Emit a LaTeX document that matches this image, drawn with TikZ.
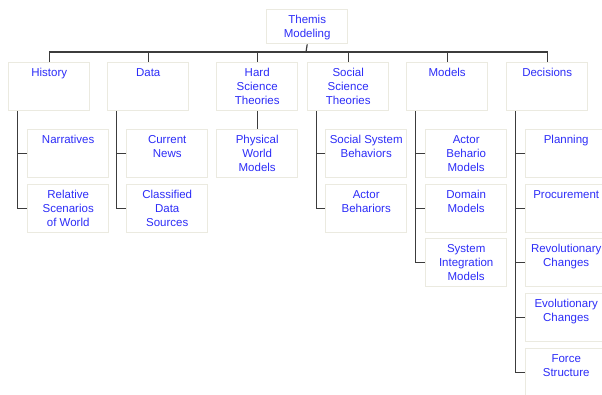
\documentclass[tikz,border=0pt]{standalone}
\usepackage{fontspec}
\newfontfamily\labelfont{Liberation Sans}
\definecolor{ink}{RGB}{45,45,248}
\definecolor{boxline}{RGB}{235,234,224}
\definecolor{wire}{RGB}{60,60,60}
% box contents: fixed height, text hung from the top edge
\newcommand\cardtext[2]{\parbox[c][#1][t]{81pt}{\centering\rule{0pt}{13.7pt}#2}}
\begin{document}
\begin{tikzpicture}[x=1pt,y=-1pt,
  card/.style={draw=boxline, line width=1.4pt, inner sep=0pt, anchor=north west,
    text=ink, font=\labelfont\fontsize{11.5}{14}\selectfont},
  link/.style={draw=wire, line width=1.2pt}]
\useasboundingbox (0,0) rectangle (602,394);
\clip (0,0) rectangle (602,394);
\fill[white] (0,0) rectangle (602,394);

% root
\node[card] (root) at (266,9) {\cardtext{34pt}{Themis\\Modeling}};

% first level
\node[card] (hist) at (8,62)   {\cardtext{48pt}{History}};
\node[card] (data) at (107,62) {\cardtext{48pt}{Data}};
\node[card] (hard) at (216,62) {\cardtext{48pt}{Hard\\Science\\Theories}};
\node[card] (soc)  at (307,62) {\cardtext{48pt}{Social\\Science\\Theories}};
\node[card] (mod)  at (406,62) {\cardtext{48pt}{Models}};
\node[card] (dec)  at (506,62) {\cardtext{48pt}{Decisions}};

% second level
\node[card] (narr)  at (27,129)  {\cardtext{48pt}{Narratives}};
\node[card] (rel)   at (27,184)  {\cardtext{48pt}{Relative\\Scenarios\\of World}};
\node[card] (news)  at (126,129) {\cardtext{48pt}{Current\\News}};
\node[card] (cls)   at (126,184) {\cardtext{48pt}{Classified\\Data\\Sources}};
\node[card] (phys)  at (216,129) {\cardtext{48pt}{Physical\\World\\Models}};
\node[card] (ssb)   at (325,129) {\cardtext{48pt}{Social System\\Behaviors}};
\node[card] (act)   at (325,184) {\cardtext{48pt}{Actor\\Behariors}};
\node[card] (abm)   at (425,129) {\cardtext{48pt}{Actor\\Behario\\Models}};
\node[card] (dom)   at (425,184) {\cardtext{48pt}{Domain\\Models}};
\node[card] (sim)   at (425,238) {\cardtext{48pt}{System\\Integration\\Models}};
\node[card] (plan)  at (525,129) {\cardtext{48pt}{Planning}};
\node[card] (proc)  at (525,184) {\cardtext{48pt}{Procurement}};
\node[card] (rev)   at (525,238) {\cardtext{48pt}{Revolutionary\\Changes}};
\node[card] (evo)   at (525,293) {\cardtext{48pt}{Evolutionary\\Changes}};
\node[card] (force) at (525,348) {\cardtext{48pt}{Force\\Structure}};

% root to first level
\coordinate (bus) at (306,52);
\draw[link] (root.south) -- (bus);
\foreach \n in {hist,data,hard,soc,mod,dec}
  \draw[link] (bus) -| (\n.north);

% first level to second level
\draw[link] (hard.south) -- (phys.north);
\foreach \p/\c in {hist/narr,hist/rel,data/news,data/cls,soc/ssb,soc/act,
                   mod/abm,mod/dom,mod/sim,
                   dec/plan,dec/proc,dec/rev,dec/evo,dec/force}
  \draw[link] ([xshift=9.5pt]\p.south west) |- (\c.west);
\end{tikzpicture}
\end{document}
